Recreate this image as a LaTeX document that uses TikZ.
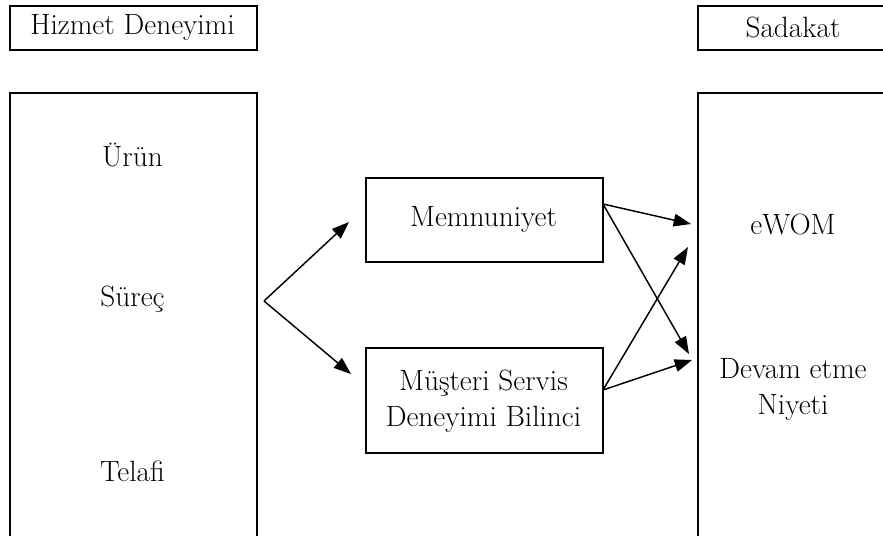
\documentclass[tikz,border=0pt]{standalone}
\usetikzlibrary{arrows.meta}
\begin{document}
\begin{tikzpicture}[x=0.75pt,y=-0.75pt,
  txt/.style={font=\fontsize{22}{27}\selectfont, align=center, inner sep=0pt},
  frame/.style={draw, line width=1.4pt, inner sep=0pt},
  conn/.style={line width=1.1pt, -{Triangle[length=13pt,width=9.5pt]}}]
\useasboundingbox (0,0) rectangle (883,536);
\clip (0,0) rectangle (883,536);
% header boxes
\node[frame, minimum width=247*0.75pt, minimum height=44*0.75pt, anchor=north west] (hd) at (9,5) {};
\node[txt] (hdt) at (132.5,27) {Hizmet Deneyimi};
\node[frame, minimum width=192*0.75pt, minimum height=44*0.75pt, anchor=north west] (sad) at (697,5) {};
\node[txt] (sadt) at (793,27) {Sadakat};
% big open boxes
\node[frame, minimum width=247*0.75pt, minimum height=480*0.75pt, anchor=north west] (lbox) at (9,92) {};
\node[frame, minimum width=192*0.75pt, minimum height=480*0.75pt, anchor=north west] (rbox) at (697,92) {};
% left texts
\node[txt] (urun) at (132.5,155) {Ürün};
\node[txt] (surec) at (132.5,299) {Süreç};
\node[txt] (telafi) at (132.5,471) {Telafi};
% right texts
\node[txt] (ewom) at (793,224) {eWOM};
\node[txt] (devam) at (793,389) {Devam etme\\Niyeti};
% middle boxes
\node[frame, minimum width=237*0.75pt, minimum height=84*0.75pt, anchor=north west] (mem) at (365,177) {};
\node[txt] (memt) at (483.5,219) {Memnuniyet};
\node[frame, minimum width=237*0.75pt, minimum height=105*0.75pt, anchor=north west] (mus) at (365,347) {};
\node[txt] (must) at (483.5,401) {Müşteri Servis\\Deneyimi Bilinci};
% connector points
\coordinate (apex) at (264,301);
\coordinate (t1) at (349,222);
\coordinate (t2) at (351,374);
\coordinate (m0) at (603,204);
\coordinate (s0) at (603,390);
\coordinate (e1) at (691,224);
\coordinate (e2) at (688,247);
\coordinate (d1) at (689,354);
\coordinate (d2) at (692,360);
\draw[conn] (apex) -- (t1);
\draw[conn] (apex) -- (t2);
\draw[conn] (m0) -- (e1);
\draw[conn] (m0) -- (d1);
\draw[conn] (s0) -- (e2);
\draw[conn] (s0) -- (d2);
\end{tikzpicture}
\end{document}
